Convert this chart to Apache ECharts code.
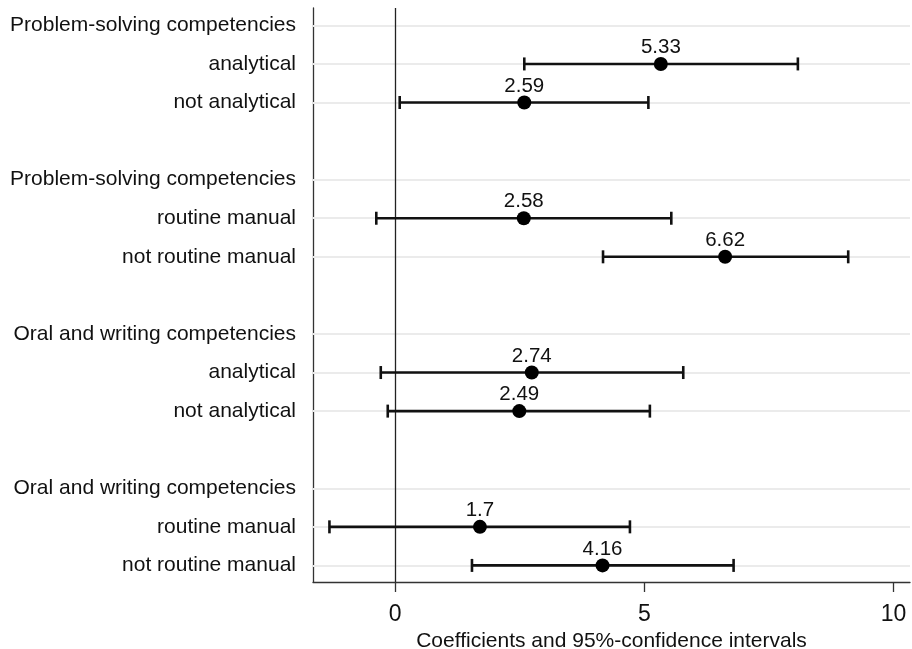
<!DOCTYPE html>
<html>
<head>
<meta charset="utf-8">
<script src="https://cdn.jsdelivr.net/npm/echarts@6/dist/echarts.min.js"></script>
<style>
  html, body { margin: 0; padding: 0; background: #fff; }
  #chart { width: 912px; height: 649px; }
</style>
</head>
<body>
<div id="chart"></div>
<script>
// Row labels, top to bottom (blank rows separate the four blocks)
const rowLabels = [
  'Problem-solving competencies', 'analytical', 'not analytical', '',
  'Problem-solving competencies', 'routine manual', 'not routine manual', '',
  'Oral and writing competencies', 'analytical', 'not analytical', '',
  'Oral and writing competencies', 'routine manual', 'not routine manual'
];
// Rows that carry an estimate
const estimateRows = [1, 2, 5, 6, 9, 10, 13, 14];
// Point estimates and 95% confidence bounds
const coefficients = [5.33, 2.59, 2.58, 6.62, 2.74, 2.49, 1.7, 4.16];
const lowerBounds  = [2.59, 0.09, -0.38, 4.17, -0.29, -0.15, -1.32, 1.54];
const upperBounds  = [8.08, 5.08, 5.54, 9.09, 5.78, 5.11, 4.71, 6.79];
// X axis tick labels
const xTicks = [0, 5, 10];
const xTitle = 'Coefficients and 95%-confidence intervals';

const FONT = '"Liberation Sans", Arial, Helvetica, sans-serif';

const labeledRows = rowLabels.map((t, i) => t ? i : null).filter(v => v !== null);

const pointData = estimateRows.map((r, i) => [coefficients[i], r]);
const ciData = estimateRows.map((r, i) => [lowerBounds[i], upperBounds[i], r]);

const chart = echarts.init(document.getElementById('chart'), null, { renderer: 'canvas' });

const BAR_W = 2.6;   // whisker thickness
const CAP_H = 13;    // whisker end-cap height

chart.setOption({
  animation: false,
  backgroundColor: '#ffffff',
  grid: { left: 313, right: 2, top: 8, bottom: 67, containLabel: false, outerBoundsMode: 'none' },
  xAxis: {
    type: 'value',
    min: -1.65,
    max: 10.33,
    splitLine: { show: false },
    axisLine: { show: true, onZero: false, lineStyle: { color: '#333', width: 1.3 } },
    axisTick: { show: true, length: 10, customValues: xTicks, lineStyle: { color: '#333', width: 1.3 } },
    axisLabel: {
      customValues: xTicks,
      margin: 21,
      fontSize: 23,
      color: '#111',
      fontFamily: FONT
    },
    name: xTitle,
    nameLocation: 'middle',
    nameGap: 39,
    nameTextStyle: { fontSize: 21, color: '#111', fontFamily: FONT }
  },
  yAxis: {
    type: 'value',
    inverse: true,
    min: -0.45,
    max: 14.43,
    splitLine: { show: false },
    axisLine: { show: true, onZero: false, lineStyle: { color: '#333', width: 1.3 } },
    axisTick: { show: false },
    axisLabel: {
      customValues: labeledRows,
      formatter: v => rowLabels[Math.round(v)] || '',
      margin: 17,
      fontSize: 21,
      color: '#111',
      fontFamily: FONT
    }
  },
  series: [
    {
      // light row guides and the zero reference line, kept beneath the estimates
      type: 'line',
      data: [],
      silent: true,
      z: 1,
      markLine: {
        silent: true,
        z: 1,
        symbol: ['none', 'none'],
        label: { show: false },
        data: labeledRows.map(r => ({ yAxis: r, lineStyle: { color: '#ebebeb', width: 2, type: 'solid' } }))
          .concat([{ xAxis: 0, lineStyle: { color: '#222', width: 1.3, type: 'solid' } }])
      }
    },
    {
      // confidence-interval whiskers with end caps
      type: 'custom',
      silent: true,
      data: ciData,
      encode: { x: [0, 1], y: 2 },
      z: 6,
      renderItem: function (params, api) {
        const row = api.value(2);
        const a = api.coord([api.value(0), row]);
        const b = api.coord([api.value(1), row]);
        const fill = { fill: '#111', stroke: null };
        return {
          type: 'group',
          children: [
            { type: 'rect', shape: { x: a[0], y: a[1] - BAR_W / 2, width: b[0] - a[0], height: BAR_W }, style: Object.assign({}, fill) },
            { type: 'rect', shape: { x: a[0] - BAR_W / 2, y: a[1] - CAP_H / 2, width: BAR_W, height: CAP_H }, style: Object.assign({}, fill) },
            { type: 'rect', shape: { x: b[0] - BAR_W / 2, y: b[1] - CAP_H / 2, width: BAR_W, height: CAP_H }, style: Object.assign({}, fill) }
          ]
        };
      }
    },
    {
      type: 'scatter',
      data: pointData,
      symbol: 'circle',
      symbolSize: 14,
      itemStyle: { color: '#000', opacity: 1 },
      label: {
        show: true,
        position: 'top',
        distance: -1,
        formatter: p => String(p.value[0]),
        fontSize: 20.5,
        color: '#111',
        fontFamily: FONT
      },
      z: 7
    }
  ]
});
</script>
</body>
</html>
